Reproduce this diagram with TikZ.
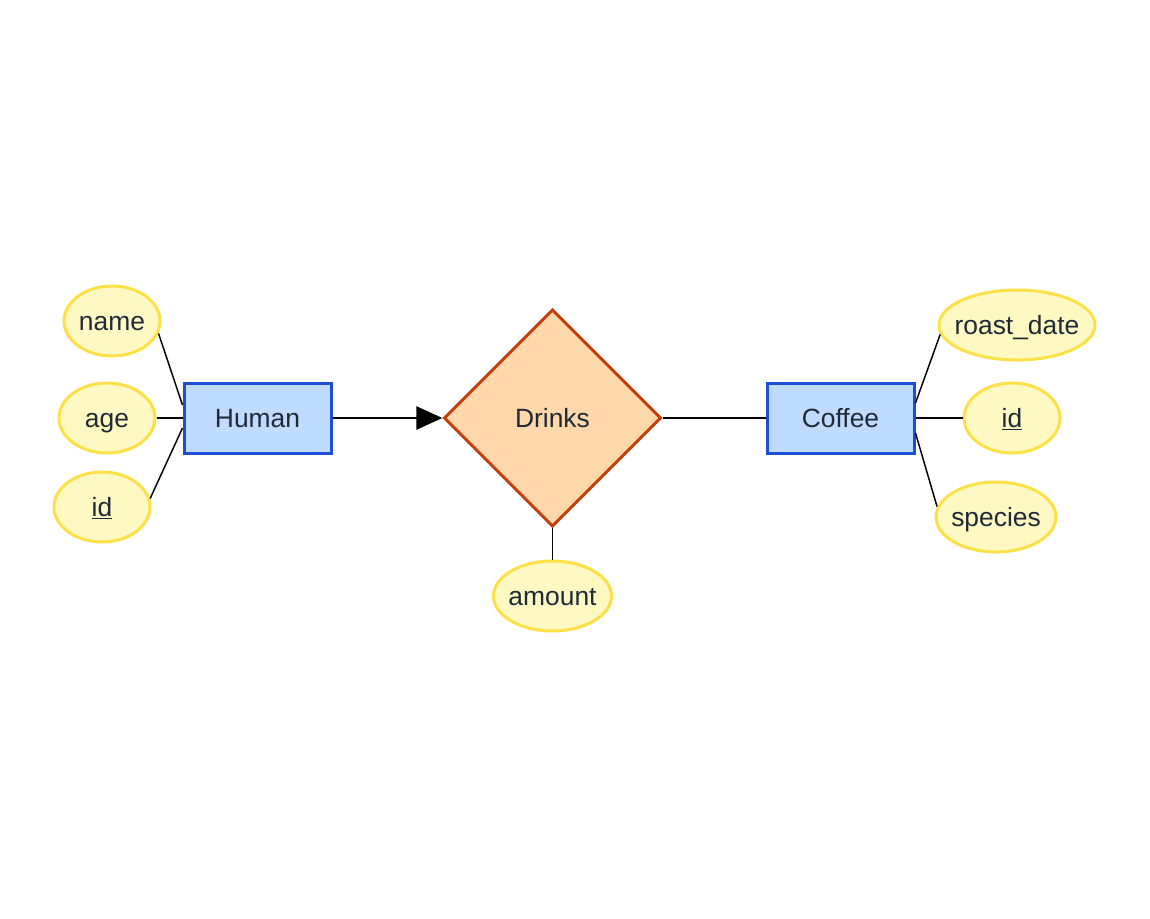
\documentclass[tikz,border=0pt]{standalone}
\usepackage{fontspec}
\setmainfont{Liberation Sans}
\usetikzlibrary{shapes.geometric,arrows.meta,calc}

\definecolor{entfill}{RGB}{191,219,254}
\definecolor{entdraw}{RGB}{29,78,216}
\definecolor{relfill}{RGB}{254,215,170}
\definecolor{reldraw}{RGB}{194,65,12}
\definecolor{attfill}{RGB}{254,249,195}
\definecolor{attdraw}{RGB}{253,224,71}
\definecolor{txt}{RGB}{31,41,55}

\begin{document}
\begin{tikzpicture}[x=0.75pt,y=0.75pt,yscale=-1,xscale=1,
  every node/.style={font=\fontsize{19.8}{24}\selectfont,text=txt,text height=17pt,text depth=3.5pt},
  entity/.style={draw=entdraw,fill=entfill,line width=2.25pt,minimum width=110.25pt,minimum height=52.5pt,inner sep=0pt},
  attrib/.style={ellipse,draw=attdraw,fill=attfill,line width=2.25pt,minimum width=72pt,minimum height=52.5pt,inner sep=0pt},
  relation/.style={diamond,aspect=1,draw=reldraw,fill=relfill,line width=2.25pt,minimum size=163pt,inner sep=0pt},
  link/.style={line width=1.1pt,black}]
%set diagram size
\useasboundingbox (0,0) rectangle (1150,918);

%Entities
\node [entity] (human) at (257.5,418) {Human};
\node [entity] (coffee) at (840.5,418) {Coffee};

%Relationship
\node [relation] (drinks) at (552.5,418) {Drinks};

%Attributes: Human
\node [attrib] (name) at (112,321) {name};
\node [attrib] (age) at (107,418) {age};
\node [attrib] (hid) at (102,507) {\underline{id}};

%Attributes: Coffee
\node [attrib,minimum width=117pt,inner xsep=-5.4pt] (roast) at (1017,325) {roast\_date};
\node [attrib] (cid) at (1012,418) {\underline{id}};
\node [attrib,minimum width=90pt,inner xsep=-2pt] (species) at (996,517) {species};

%Attribute: Drinks
\node [attrib,minimum width=88.5pt,inner xsep=-2pt] (amount) at (552.5,596) {amount};

%Links Human
\draw [link] (name.-15) -- ($(human.west)+(0,-13)$);
\draw [link] (age) -- (human);
\draw [link] (hid.10) -- ($(human.west)+(0,10)$);

%Links Coffee
\draw [link] (roast.187) -- ($(coffee.east)+(0,-15)$);
\draw [link] (cid) -- (coffee);
\draw [link] (species.170) -- ($(coffee.east)+(0,15)$);

%Relationship lines
\draw [link,-{Triangle[length=19.5pt,width=17.5pt]}] (human) -- (drinks);
\draw [link] (drinks) -- (coffee);
\draw [link] (drinks) -- (amount);

\end{tikzpicture}
\end{document}
